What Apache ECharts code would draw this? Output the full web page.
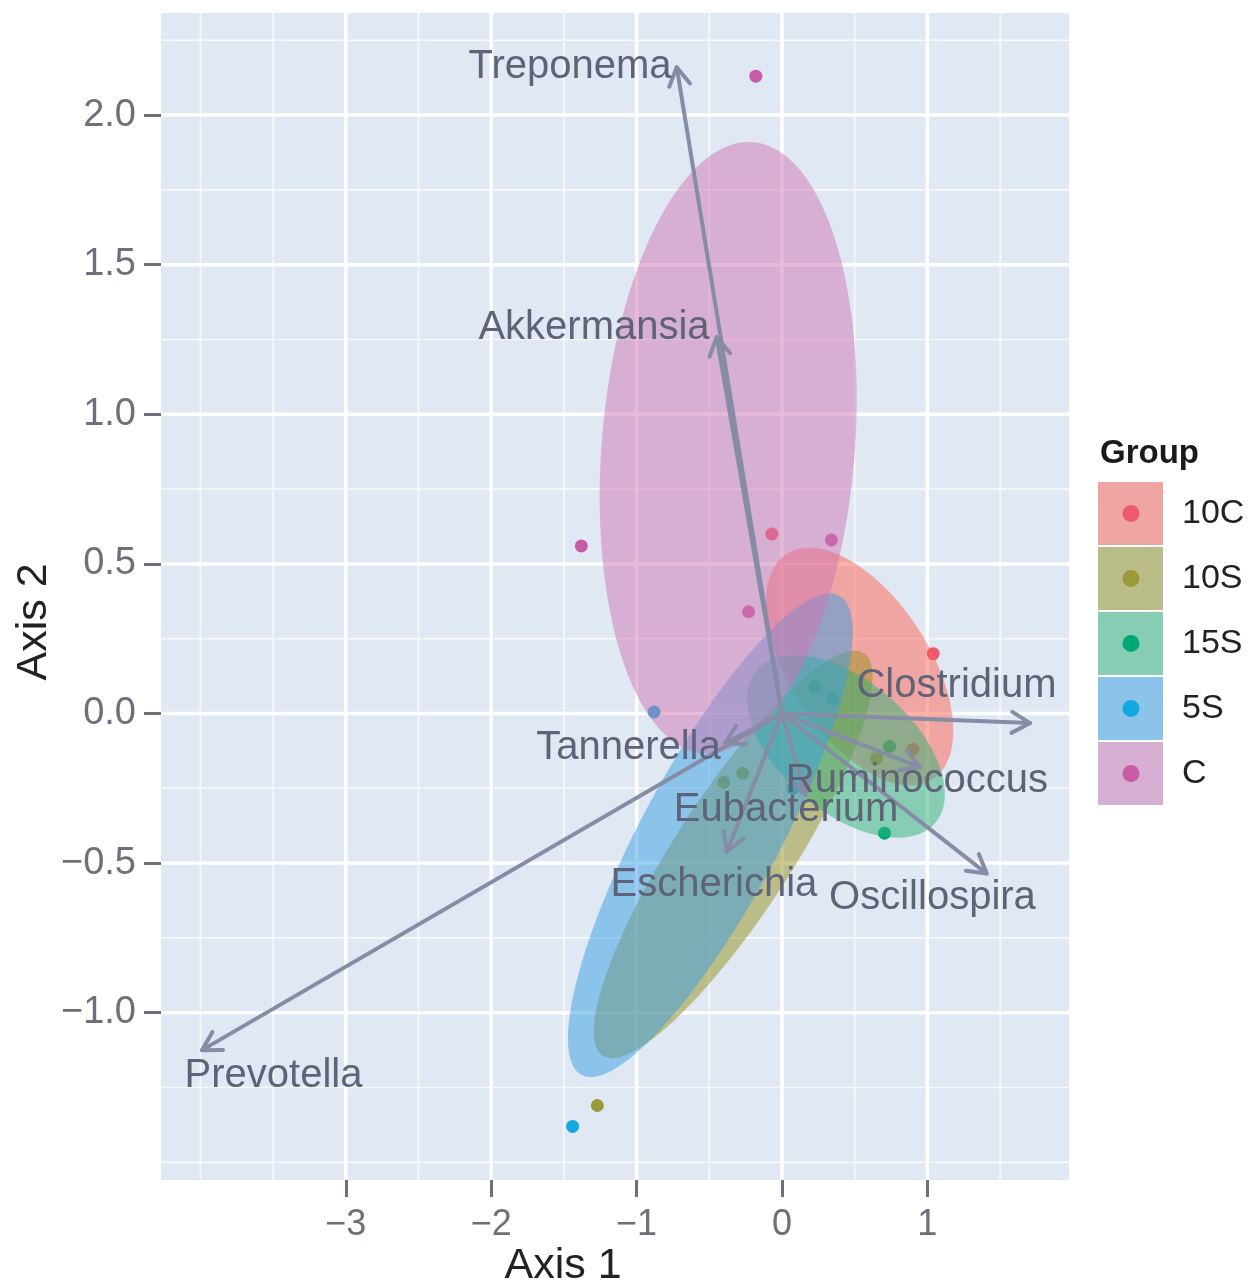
<!DOCTYPE html>
<html>
<head>
<meta charset="utf-8">
<script src="https://cdn.jsdelivr.net/npm/echarts@6/dist/echarts.min.js"></script>
<style>html,body{margin:0;padding:0;background:#fff;}#chart{width:1258px;height:1287px;}</style>
</head>
<body>
<div id="chart"></div>
<script>
// ---------------- data ----------------
const groups = ['10C', '10S', '15S', '5S', 'C'];
const pointColors = ['#eb5a70', '#9c9a38', '#00a878', '#12a8e0', '#c95aa5'];
const ellipseFills = ['rgba(255,98,80,0.5)', 'rgba(150,145,30,0.5)', 'rgba(47,178,117,0.5)', 'rgba(57,158,227,0.5)', 'rgba(207,118,177,0.5)'];

const points10C = [[1.04, 0.20], [-0.07, 0.60], [0.90, -0.12]];
const points10S = [[-1.27, -1.31], [-0.40, -0.23], [-0.27, -0.20], [0.65, -0.15]];
const points15S = [[0.705, -0.40], [0.226, 0.09], [0.74, -0.11]];
const points5S = [[-1.44, -1.38], [-0.88, 0.005], [0.35, 0.05], [0.075, -0.25]];
const pointsC = [[-0.18, 2.13], [-1.38, 0.56], [0.34, 0.58], [-0.23, 0.34]];
const groupPoints = [points10C, points10S, points15S, points5S, pointsC];

// ellipse per group: centre, half-extent in x and y, correlation
const ellipseCX = [0.534, -0.336, 0.440, -0.493, -0.370];
const ellipseCY = [0.157, -0.471, -0.110, -0.407, 0.888];
const ellipseSX = [0.644, 0.959, 0.680, 0.979, 0.884];
const ellipseSY = [0.397, 0.681, 0.305, 0.808, 1.022];
const ellipseR = [-0.54, 0.87, -0.52, 0.84, 0.16];

const taxa = ['Treponema', 'Akkermansia', 'Clostridium', 'Tannerella', 'Ruminococcus', 'Eubacterium', 'Escherichia', 'Oscillospira', 'Prevotella'];
const arrowX = [-0.724, -0.449, 1.706, -0.392, 0.949, 0.160, -0.380, 1.408, -3.989];
const arrowY = [2.160, 1.258, -0.032, -0.100, -0.179, -0.270, -0.462, -0.535, -1.125];
const labelX = [-1.458, -1.293, 1.200, -1.056, 0.928, 0.028, -0.468, 1.035, -3.497];
const labelY = [2.159, 1.287, 0.091, -0.115, -0.226, -0.323, -0.574, -0.616, -1.212];

const xTicks = [-3, -2, -1, 0, 1];
const yTicks = [-1.0, -0.5, 0.0, 0.5, 1.0, 1.5, 2.0];
const xMinor = [-4, -3.5, -2.5, -1.5, -0.5, 0.5, 1.5];
const yMinor = [-1.5, -1.25, -0.75, -0.25, 0.25, 0.75, 1.25, 1.75, 2.25];

const xLabel = 'Axis 1';
const yLabel = 'Axis 2';
const legendTitle = 'Group';

// ---------------- chart ----------------
const FONT = '"Liberation Sans", Arial, Helvetica, sans-serif';
const chart = echarts.init(document.getElementById('chart'), null, {renderer: 'canvas'});
const minus = v => (v < 0 ? '\u2212' : '');

const vGrid = xTicks.map(v => [v, 0, 1]).concat(xMinor.map(v => [v, 0, 0]));
const hGrid = yTicks.map(v => [0, v, 1]).concat(yMinor.map(v => [0, v, 0]));

const series = [];
series.push({
  type: 'custom', silent: true, z: 1, data: vGrid, encode: {x: 0, y: 1},
  renderItem: (params, api) => {
    const p = api.coord([api.value(0), 0]);
    const cs = params.coordSys;
    const major = api.value(2) === 1;
    return {type: 'line', shape: {x1: p[0], y1: cs.y, x2: p[0], y2: cs.y + cs.height},
      style: {stroke: major ? '#ffffff' : 'rgba(255,255,255,0.75)', lineWidth: major ? 3.5 : 1.6}};
  }
});
series.push({
  type: 'custom', silent: true, z: 1, data: hGrid, encode: {x: 0, y: 1},
  renderItem: (params, api) => {
    const p = api.coord([0, api.value(1)]);
    const cs = params.coordSys;
    const major = api.value(2) === 1;
    return {type: 'line', shape: {x1: cs.x, y1: p[1], x2: cs.x + cs.width, y2: p[1]},
      style: {stroke: major ? '#ffffff' : 'rgba(255,255,255,0.75)', lineWidth: major ? 3.5 : 1.6}};
  }
});

groups.forEach((g, i) => {
  series.push({
    name: g, type: 'scatter', z: 2, symbol: 'circle', symbolSize: 13,
    itemStyle: {color: pointColors[i], opacity: 1}, data: groupPoints[i]
  });
});

series.push({
  type: 'custom', silent: true, z: 3,
  data: groups.map((g, i) => [ellipseCX[i], ellipseCY[i], ellipseSX[i], ellipseSY[i], ellipseR[i], i]),
  encode: {x: 0, y: 1},
  renderItem: (params, api) => {
    const cx = api.value(0), cy = api.value(1), sx = api.value(2), sy = api.value(3), r = api.value(4), gi = api.value(5);
    const k = Math.sqrt(1 - r * r);
    const pts = [];
    const N = 160;
    for (let j = 0; j < N; j++) {
      const t = 2 * Math.PI * j / N;
      pts.push(api.coord([cx + sx * Math.cos(t), cy + sy * (r * Math.cos(t) + k * Math.sin(t))]));
    }
    return {type: 'polygon', shape: {points: pts}, style: {fill: ellipseFills[gi], stroke: null}};
  }
});

series.push({
  type: 'custom', silent: true, z: 4,
  data: taxa.map((t, i) => [arrowX[i], arrowY[i]]),
  encode: {x: 0, y: 1},
  renderItem: (params, api) => {
    const o = api.coord([0, 0]);
    const p = api.coord([api.value(0), api.value(1)]);
    const a = Math.atan2(p[1] - o[1], p[0] - o[0]);
    const L = 21, h = Math.PI / 6;
    const a1 = [p[0] - L * Math.cos(a - h), p[1] - L * Math.sin(a - h)];
    const a2 = [p[0] - L * Math.cos(a + h), p[1] - L * Math.sin(a + h)];
    const st = {stroke: '#878ca6', lineWidth: 4, lineCap: 'round', lineJoin: 'round', fill: null};
    return {type: 'group', children: [
      {type: 'line', shape: {x1: o[0], y1: o[1], x2: p[0], y2: p[1]}, style: st},
      {type: 'polyline', shape: {points: [a1, p, a2]}, style: st}
    ]};
  }
});

series.push({
  type: 'custom', silent: true, z: 5,
  data: taxa.map((t, i) => [labelX[i], labelY[i]]),
  encode: {x: 0, y: 1},
  renderItem: (params, api) => {
    const p = api.coord([api.value(0), api.value(1)]);
    return {type: 'text', x: p[0], y: p[1],
      style: {text: taxa[params.dataIndex], fill: '#5f6377', font: '40px ' + FONT, align: 'center', verticalAlign: 'middle'}};
  }
});

// legend drawn as graphic elements from the group arrays
const graphics = [];
graphics.push({type: 'text', x: 1100, y: 454, style: {text: legendTitle, fill: '#1a1a1a', font: 'bold 33px ' + FONT, align: 'left', verticalAlign: 'middle'}});
const keyTop = 482, keyStep = 65, keyH = 63, keyW = 65, keyLeft = 1098;
groups.forEach((g, i) => {
  const y0 = keyTop + i * keyStep;
  graphics.push({type: 'rect', shape: {x: keyLeft, y: y0, width: keyW, height: keyH}, style: {fill: '#dfe8f3'}});
  graphics.push({type: 'rect', shape: {x: keyLeft, y: y0, width: keyW, height: keyH}, style: {fill: ellipseFills[i]}});
  graphics.push({type: 'circle', shape: {cx: keyLeft + 33, cy: y0 + keyH / 2, r: 8.5}, style: {fill: pointColors[i]}});
  graphics.push({type: 'text', x: 1182, y: y0 + keyH / 2, style: {text: g, fill: '#222222', font: '34px ' + FONT, align: 'left', verticalAlign: 'middle'}});
});
graphics.push({type: 'text', x: 563, y: 1266, style: {text: xLabel, fill: '#222222', font: '43px ' + FONT, align: 'center', verticalAlign: 'middle'}});
graphics.push({type: 'text', x: 34, y: 622, rotation: Math.PI / 2, style: {text: yLabel, fill: '#222222', font: '43px ' + FONT, align: 'center', verticalAlign: 'middle'}});

chart.setOption({
  animation: false,
  backgroundColor: '#ffffff',
  grid: {left: 161, right: 189, top: 13, bottom: 107, show: true, backgroundColor: '#dfe8f3', borderWidth: 0, outerBoundsMode: 'none'},
  xAxis: {
    type: 'value', min: -4.271, max: 1.974, position: 'bottom',
    axisLine: {show: false, onZero: false}, splitLine: {show: false},
    axisTick: {show: true, customValues: xTicks, length: 17, lineStyle: {color: '#6e6e7c', width: 3}},
    axisLabel: {customValues: xTicks, margin: 27, fontSize: 36, fontFamily: FONT, color: '#6e6e7c',
      formatter: v => minus(v) + Math.abs(v)}
  },
  yAxis: {
    type: 'value', min: -1.559, max: 2.341, position: 'left',
    axisLine: {show: false, onZero: false}, splitLine: {show: false},
    axisTick: {show: true, customValues: yTicks, length: 17, lineStyle: {color: '#6e6e7c', width: 3}},
    axisLabel: {customValues: yTicks, margin: 25, fontSize: 38, fontFamily: FONT, color: '#6e6e7c',
      formatter: v => minus(v) + Math.abs(v).toFixed(1)}
  },
  series: series,
  graphic: graphics
});
</script>
</body>
</html>
